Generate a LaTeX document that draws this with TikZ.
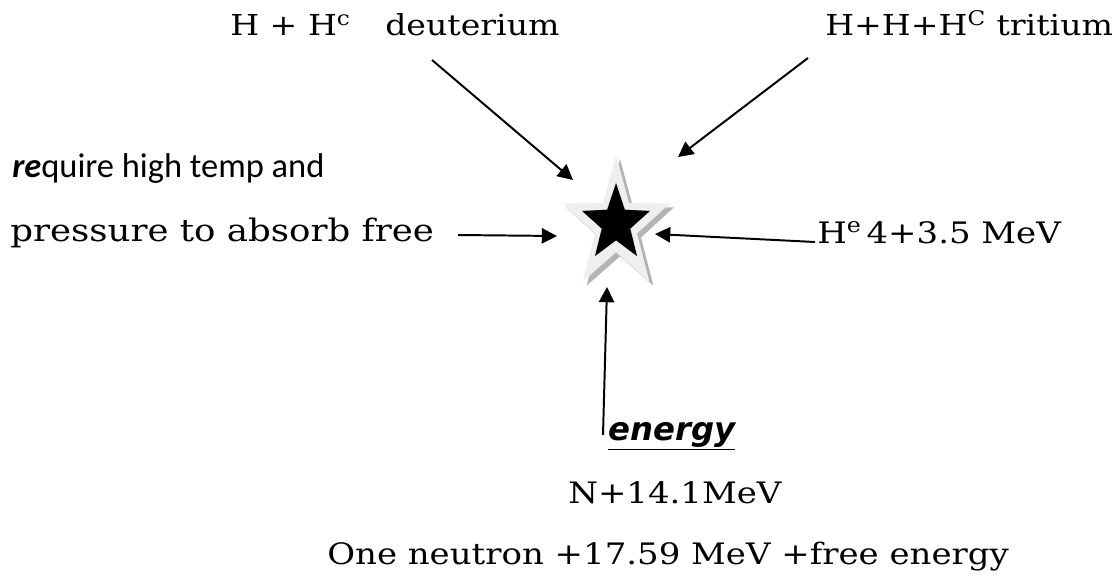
\documentclass[tikz,border=0pt]{standalone}
\usepackage{fontspec}
\setmainfont[FakeStretch=1.15]{DejaVu Serif}
\newfontfamily\carlito{Carlito}
\newfontfamily\dvsans{DejaVu Sans}
\usetikzlibrary{arrows.meta}
\definecolor{starlight}{HTML}{EFEFEF}
\definecolor{starshadow}{HTML}{B4B4B4}

\begin{document}
\begin{tikzpicture}[x=0.025cm, y=-0.025cm, >={Triangle[length=3.8mm, width=3.8mm]},
    lbl/.style={anchor=base west, inner sep=0pt, font=\fontsize{21}{24}\selectfont},
    arr/.style={->, line width=1.4pt}]
    \useasboundingbox (0,0) rectangle (1116,578);

    % 1. Ngôi sao (bóng, viền xám, lõi đen)
    \fill[starshadow] (620,159) \foreach \k in {1,...,9} {
        -- ({620+0.81*70*ifthenelse(mod(\k,2)==0,1,0.39)*cos(90+36*\k)}, {229-70*ifthenelse(mod(\k,2)==0,1,0.39)*sin(90+36*\k)})} -- cycle;
    \fill[starlight] (616,155) \foreach \k in {1,...,9} {
        -- ({616+0.81*70*ifthenelse(mod(\k,2)==0,1,0.39)*cos(90+36*\k)}, {225-70*ifthenelse(mod(\k,2)==0,1,0.39)*sin(90+36*\k)})} -- cycle;
    \fill[black] (616,183) \foreach \k in {1,...,9} {
        -- ({616+0.885*40.4*ifthenelse(mod(\k,2)==0,1,0.42)*cos(90+36*\k)}, {223.4-40.4*ifthenelse(mod(\k,2)==0,1,0.42)*sin(90+36*\k)})} -- cycle;

    % 2. Các dòng chữ
    \node[lbl, font=\fontsize{20.5}{24}\selectfont] (deut) at (230,36) {H + H\textsuperscript{c}\hspace{1.2em}deuterium};
    \node[lbl, font=\fontsize{20.5}{24}\selectfont] (trit) at (825,36) {H+H+H\textsuperscript{C} tritium};
    \node[lbl, font=\carlito\fontsize{24.5}{28}\selectfont] (req) at (12,177) {\textbf{\textit{re}}quire high temp and};
    \node[lbl, font=\fontsize{22}{26}\selectfont] (press) at (10,241) {pressure to absorb free};
    \node[lbl] (He) at (817,243) {H\textsuperscript{e}\,4+3.5 MeV};
    \node[lbl, font=\dvsans\bfseries\itshape\fontsize{23}{26}\selectfont] (energy) at (608,440) {\underline{energy}};
    \node[lbl] (N) at (568,503) {N+14.1MeV};
    \node[lbl] (one) at (327,564) {One neutron +17.59 MeV +free energy};

    % 3. Các mũi tên hướng vào ngôi sao
    \coordinate (deutTail) at (432,60);   \coordinate (deutTip) at (573,180);
    \coordinate (tritTail) at (808,58);   \coordinate (tritTip) at (678,157);
    \coordinate (pressTail) at (458,235); \coordinate (pressTip) at (557,236);
    \coordinate (HeTail) at (815,242);    \coordinate (HeTip) at (655,234);
    \coordinate (botTail) at (603,435);   \coordinate (botTip) at (607,287);
    \draw[arr] (deutTail) -- (deutTip);
    \draw[arr] (tritTail) -- (tritTip);
    \draw[arr] (pressTail) -- (pressTip);
    \draw[arr] (HeTail) -- (HeTip);
    \draw[arr] (botTail) -- (botTip);

\end{tikzpicture}
\end{document}
